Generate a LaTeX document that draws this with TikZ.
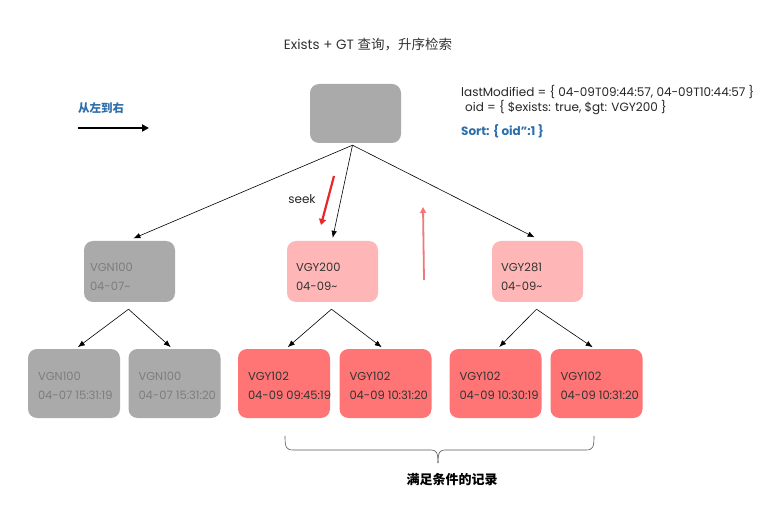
\documentclass[tikz,border=0pt]{standalone}
\usepackage{fontspec}
\setmainfont{Poppins}
\newfontfamily\cjk{Noto Sans CJK SC}
\usetikzlibrary{arrows.meta,calc}
\definecolor{boxgray}{RGB}{170,170,170}
\definecolor{txtgray}{RGB}{125,125,125}
\definecolor{pinkL}{RGB}{255,182,182}
\definecolor{redB}{RGB}{255,117,117}
\definecolor{blueT}{RGB}{46,110,170}
\definecolor{seekred}{RGB}{232,40,40}
\definecolor{uppink}{RGB}{240,120,120}
\definecolor{bracec}{RGB}{90,90,90}
\begin{document}
\begin{tikzpicture}[x=1pt,y=-1pt,
  box/.style={rounded corners=9pt, minimum width=91pt, minimum height=61pt, inner sep=0pt},
  grayb/.style={box, fill=boxgray},
  pinkb/.style={box, fill=pinkL},
  redb/.style={box, fill=redB, minimum width=92pt, minimum height=69pt},
  btxt/.style={anchor=west, align=left, inner sep=0pt, font=\fontsize{11.5}{19}\selectfont},
  gtxt/.style={btxt, text=txtgray},
  ptxt/.style={btxt, text=black!80},
  edge/.style={-{Latex[length=7pt,width=5.5pt]}, black, semithick, shorten >=1pt},
  code/.style={anchor=west, inner sep=0pt, font=\fontsize{12}{14}\selectfont, text=black!85}]
\useasboundingbox (0,0) rectangle (777,513);
\fill[white] (0,0) rectangle (777,513);

% title
\node[inner sep=0pt, font=\fontsize{13.5}{16}\selectfont, text=black!80] (title) at (368,45) {Exists + GT {\cjk 查询，升序检索}};

% left direction
\node[anchor=west, inner sep=0pt, text=blueT, font=\cjk\bfseries\fontsize{11.5}{14}\selectfont] (dir) at (78,108) {从左到右};
\coordinate (d1) at (78,128);
\coordinate (d2) at (149,128);
\draw[line width=2.2pt, -{Triangle[length=7pt,width=7pt]}] (d1) -- (d2);

% query text
\node[code] (q1) at (461,92) {lastModified = \{ 04-09T09:44:57, 04-09T10:44:57 \}};
\node[code] (q2) at (465,108) {oid = \{ \$exists: true, \$gt: VGY200 \}};
\node[code, text=blueT, font=\bfseries\fontsize{12}{14}\selectfont] (q3) at (461,131) {Sort: \{ oid":1 \}};

% root
\node[grayb, minimum height=59pt] (root) at (355.5,113.5) {};

% level 2
\node[grayb] (n1) at (129.5,271.5) {};
\node[pinkb] (n2) at (332.5,271.5) {};
\node[pinkb] (n3) at (537.5,271.5) {};
\node[gtxt] (n1t) at ($(n1.west)+(6,5)$) {VGN100\\04-07\textasciitilde};
\node[ptxt] (n2t) at ($(n2.west)+(9,5)$) {VGY200\\04-09\textasciitilde};
\node[ptxt] (n3t) at ($(n3.west)+(9,5)$) {VGY281\\04-09\textasciitilde};

% level 3
\node[redb, fill=boxgray] (g1) at (74,383.5) {};
\node[redb, fill=boxgray] (g2) at (174.5,383.5) {};
\node[redb] (r1) at (284,383.5) {};
\node[redb] (r2) at (385.5,383.5) {};
\node[redb] (r3) at (495.5,383.5) {};
\node[redb] (r4) at (596.5,383.5) {};
\node[gtxt] (g1t) at ($(g1.west)+(10,2)$) {VGN100\\04-07 15:31:19};
\node[gtxt] (g2t) at ($(g2.west)+(10,2)$) {VGN100\\04-07 15:31:20};
\node[ptxt] (r1t) at ($(r1.west)+(10,2)$) {VGY102\\04-09 09:45:19};
\node[ptxt] (r2t) at ($(r2.west)+(10,2)$) {VGY102\\04-09 10:31:20};
\node[ptxt] (r3t) at ($(r3.west)+(10,2)$) {VGY102\\04-09 10:30:19};
\node[ptxt] (r4t) at ($(r4.west)+(10,2)$) {VGY102\\04-09 10:31:20};

% edges
\draw[edge] ($(root.south)+(-3,2)$) -- ($(n1.north)+(3,-2)$);
\draw[edge] ($(root.south)+(-3,2)$) -- ($(n2.north)+(0,-2)$);
\draw[edge] ($(root.south)+(-3,2)$) -- ($(n3.north)+(-2,-3)$);
\draw[edge] ($(n1.south)+(-1,7)$) -- ($(g1.north)+(3,-1)$);
\draw[edge] ($(n1.south)+(-1,7)$) -- ($(g2.north)+(-3,-1)$);
\draw[edge] ($(n2.south)+(-1,7)$) -- ($(r1.north)+(3,-1)$);
\draw[edge] ($(n2.south)+(-1,7)$) -- ($(r2.north)+(-3,-1)$);
\draw[edge] ($(n3.south)+(-1,7)$) -- ($(r3.north)+(3,-1)$);
\draw[edge] ($(n3.south)+(-1,7)$) -- ($(r4.north)+(-3,-1)$);

% seek arrow
\coordinate (s1) at (334,176);
\coordinate (s2) at (321,225);
\draw[seekred, line width=2.2pt, -{Triangle[length=6pt,width=7pt]}] (s1) -- (s2);
\node[inner sep=0pt, font=\fontsize{12}{14}\selectfont, text=black!85] (seek) at (302,199) {seek};

% up arrow
\coordinate (u1) at (424,280);
\coordinate (u2) at (423,207);
\draw[uppink, line width=1.8pt, -{Triangle[length=6pt,width=6pt]}] (u1) -- (u2);

% brace
\coordinate (b1) at (285,436);
\coordinate (bm) at (438,463);
\coordinate (b2) at (594,436);
\draw[bracec, semithick] (b1) .. controls (285,447) and (286,450) .. (293,450) -- (431,450) .. controls (436,450) and (438,452) .. (bm);
\draw[bracec, semithick] (bm) .. controls (438,452) and (440,450) .. (445,450) -- (586,450) .. controls (593,450) and (594,447) .. (b2);
\node[inner sep=0pt, font=\cjk\bfseries\fontsize{13}{16}\selectfont] (res) at (452,480) {满足条件的记录};
\end{tikzpicture}
\end{document}
